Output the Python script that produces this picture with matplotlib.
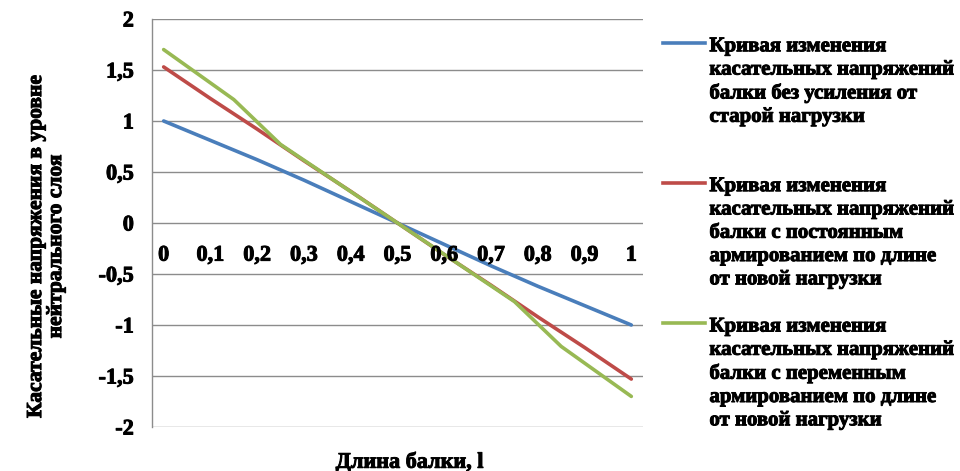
import matplotlib.pyplot as plt
import matplotlib.patheffects as pe
from matplotlib.lines import Line2D

# beam length positions
x_blue = [0, 0.1, 0.2, 0.3, 0.4, 0.5, 0.6, 0.7, 0.8, 0.9, 1.0]
y_blue = [1.0, 0.81, 0.62, 0.42, 0.21, 0.0, -0.21, -0.42, -0.62, -0.81, -1.0]

x_red = [0, 0.1, 0.2, 0.3, 0.4, 0.5, 0.6, 0.7, 0.8, 0.9, 1.0]
y_red = [1.53, 1.22, 0.92, 0.61, 0.31, 0.0, -0.31, -0.61, -0.92, -1.22, -1.53]

x_green = [0, 0.15, 0.25, 0.5, 0.75, 0.85, 1.0]
y_green = [1.70, 1.21, 0.77, 0.0, -0.77, -1.21, -1.70]

labels = [
    "Кривая изменения\nкасательных напряжений\nбалки без усиления от\nстарой нагрузки",
    "Кривая изменения\nкасательных напряжений\nбалки с постоянным\nармированием по длине\nот новой нагрузки",
    "Кривая изменения\nкасательных напряжений\nбалки с переменным\nармированием по длине\nот новой нагрузки",
]
colors = ["#4A7EBB", "#BE4B48", "#98B954"]

x_ticks = [0, 0.1, 0.2, 0.3, 0.4, 0.5, 0.6, 0.7, 0.8, 0.9, 1.0]
x_ticklabels = ["0", "0,1", "0,2", "0,3", "0,4", "0,5", "0,6", "0,7", "0,8", "0,9", "1"]
y_ticks = [-2, -1.5, -1, -0.5, 0, 0.5, 1, 1.5, 2]
y_ticklabels = ["-2", "-1,5", "-1", "-0,5", "0", "0,5", "1", "1,5", "2"]

plt.rcParams.update(
    {
        "font.family": ["Liberation Serif", "DejaVu Serif"],
        "font.weight": "bold",
        "font.size": 14,
    }
)
# the reference text is heavy, thicken glyphs a little
heavy = [pe.withStroke(linewidth=0.7, foreground="black")]

fig = plt.figure(figsize=(9.6, 4.71), dpi=100)
ax = fig.add_axes([0.1583, 0.0934, 0.5115, 0.8663])

grid_c = "#8C8C8C"
for s in ["top", "right", "bottom"]:
    ax.spines[s].set_visible(False)
ax.spines["left"].set_color(grid_c)
ax.spines["left"].set_linewidth(1)
ax.set_axisbelow(True)
ax.yaxis.grid(True, color=grid_c, linewidth=1)

for xs, ys, c in zip([x_blue, x_red, x_green], [y_blue, y_red, y_green], colors):
    ax.plot(xs, ys, color=c, linewidth=2.6, solid_capstyle="round")

ax.set_xlim(-0.025, 1.025)
ax.set_ylim(-2, 2)
ax.set_yticks(y_ticks)
ax.set_yticklabels(y_ticklabels, fontsize=16, fontweight="bold", path_effects=heavy)
ax.tick_params(axis="y", length=0, pad=13)

# category labels sit just under the zero line
ax.set_xticks([])
for xv, lab in zip(x_ticks, x_ticklabels):
    ax.text(xv, -0.32, lab, ha="center", va="center", fontsize=16, fontweight="bold",
            path_effects=heavy)

fig.text(0.427, 0.018, "Длина балки, l", ha="center", va="center", fontsize=16,
         fontweight="bold", path_effects=heavy)
fig.text(0.048, 0.478, "Касательные напряжения в уровне\nнейтрального слоя", rotation=90,
         ha="center", va="center", fontsize=15.5, fontweight="bold", linespacing=1.0,
         path_effects=heavy)

# legend drawn by hand so the line sits at the first text row
leg_y = [0.909, 0.612, 0.314]
for lab, c, yy in zip(labels, colors, leg_y):
    fig.add_artist(Line2D([0.691, 0.734], [yy, yy], transform=fig.transFigure,
                          color=c, linewidth=2.6))
    fig.text(0.739, yy + 0.014, lab, ha="left", va="top", fontsize=15,
             fontweight="bold", linespacing=1.22, path_effects=heavy)

fig.savefig("out.png", dpi=100)
